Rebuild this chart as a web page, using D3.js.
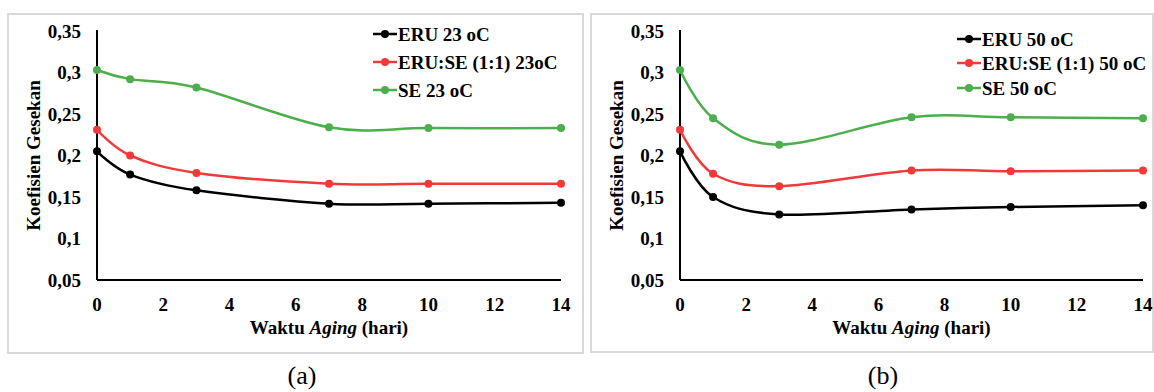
<!DOCTYPE html>
<html>
<head>
<meta charset="utf-8">
<script src="https://cdn.jsdelivr.net/npm/d3@7"></script>
<style>
  body { margin: 0; background: #fff; }
  svg { display: block; }
  text { font-family: "Liberation Serif", "Times New Roman", serif; }
</style>
</head>
<body>
<div id="chart"></div>
<script>
const days = [0, 1, 3, 7, 10, 14];
const xTicks = [0, 2, 4, 6, 8, 10, 12, 14];
const yTicks = [0.05, 0.1, 0.15, 0.2, 0.25, 0.3, 0.35];

// panel (a) 23 oC
const eru23 = [0.205, 0.177, 0.158, 0.142, 0.142, 0.143];
const mix23 = [0.231, 0.200, 0.179, 0.166, 0.166, 0.166];
const se23 = [0.303, 0.292, 0.282, 0.234, 0.233, 0.233];
const names23 = ["ERU 23 oC", "ERU:SE (1:1) 23oC", "SE 23 oC"];

// panel (b) 50 oC
const eru50 = [0.205, 0.150, 0.129, 0.135, 0.138, 0.140];
const mix50 = [0.231, 0.178, 0.163, 0.182, 0.181, 0.182];
const se50 = [0.303, 0.245, 0.213, 0.246, 0.246, 0.245];
const names50 = ["ERU 50 oC", "ERU:SE (1:1) 50 oC", "SE 50 oC"];

const colors = ["#000000", "#f03a3a", "#4cae4c"];

const svg = d3.select("#chart").append("svg")
  .attr("width", 1154)
  .attr("height", 392);

const fmt = d => String(+d.toFixed(2)).replace(".", ",");

function drawPanel(opt) {
  const { frame, left, right, top, bottom, series, names, legend, label, labelX } = opt;

  svg.append("rect")
    .attr("x", frame[0]).attr("y", frame[1])
    .attr("width", frame[2]).attr("height", frame[3])
    .attr("fill", "none").attr("stroke", "#d9d9d9").attr("stroke-width", 2);

  const x = d3.scaleLinear().domain([0, 14]).range([left, right]);
  const y = d3.scaleLinear().domain([0.05, 0.35]).range([bottom, top]);

  const g = svg.append("g");

  // y tick labels
  g.selectAll(".yt").data(yTicks).join("text")
    .attr("x", left - 16)
    .attr("y", d => y(d))
    .attr("dy", "0.35em")
    .attr("text-anchor", "end")
    .attr("font-size", 19).attr("font-weight", "bold")
    .text(fmt);

  // x tick labels
  g.selectAll(".xt").data(xTicks).join("text")
    .attr("x", d => x(d))
    .attr("y", bottom + 24)
    .attr("dy", "0.35em")
    .attr("text-anchor", "middle")
    .attr("font-size", 19).attr("font-weight", "bold")
    .text(d => d);

  // axis lines
  g.append("line")
    .attr("x1", left).attr("x2", left).attr("y1", top - 1).attr("y2", bottom)
    .attr("stroke", "#000").attr("stroke-width", 2);
  g.append("line")
    .attr("x1", left).attr("x2", right).attr("y1", bottom).attr("y2", bottom)
    .attr("stroke", "#000").attr("stroke-width", 2);

  // axis titles
  const xt = g.append("text")
    .attr("x", (left + right) / 2)
    .attr("y", bottom + 47)
    .attr("dy", "0.35em")
    .attr("text-anchor", "middle")
    .attr("font-size", 19).attr("font-weight", "bold");
  xt.append("tspan").text("Waktu ");
  xt.append("tspan").attr("font-style", "italic").text("Aging");
  xt.append("tspan").text(" (hari)");

  g.append("text")
    .attr("transform", `translate(${left - 64},${(top + bottom) / 2}) rotate(-90)`)
    .attr("dy", "0.35em")
    .attr("text-anchor", "middle")
    .attr("font-size", 19).attr("font-weight", "bold")
    .text("Koefisien Gesekan");

  const line = d3.line()
    .x((d, i) => x(days[i]))
    .y(d => y(d))
    .curve(d3.curveCardinal.tension(0));

  series.forEach((s, k) => {
    g.append("path")
      .attr("d", line(s))
      .attr("fill", "none")
      .attr("stroke", colors[k])
      .attr("stroke-width", 2.5);
    g.selectAll(null).data(s).join("circle")
      .attr("cx", (d, i) => x(days[i]))
      .attr("cy", d => y(d))
      .attr("r", 4)
      .attr("fill", colors[k]);
  });

  // legend
  names.forEach((n, k) => {
    const ly = legend.y[k];
    g.append("line")
      .attr("x1", legend.x).attr("x2", legend.x + 24)
      .attr("y1", ly).attr("y2", ly)
      .attr("stroke", colors[k]).attr("stroke-width", 2.5);
    g.append("circle")
      .attr("cx", legend.x + 12).attr("cy", ly).attr("r", 4)
      .attr("fill", colors[k]);
    g.append("text")
      .attr("x", legend.x + 25).attr("y", ly)
      .attr("dy", "0.35em")
      .attr("font-size", 19).attr("font-weight", "bold")
      .text(n);
  });

  svg.append("text")
    .attr("x", labelX).attr("y", 375)
    .attr("dy", "0.35em")
    .attr("text-anchor", "middle")
    .attr("font-size", 26)
    .text(label);
}

drawPanel({
  frame: [8, 14, 575, 339],
  left: 97, right: 561, top: 31, bottom: 280,
  series: [eru23, mix23, se23],
  names: names23,
  legend: { x: 373, y: [34, 62, 90] },
  label: "(a)", labelX: 302
});

drawPanel({
  frame: [591, 14, 562, 338],
  left: 680, right: 1143, top: 31, bottom: 280,
  series: [eru50, mix50, se50],
  names: names50,
  legend: { x: 957, y: [39, 63, 88] },
  label: "(b)", labelX: 883
});
</script>
</body>
</html>
